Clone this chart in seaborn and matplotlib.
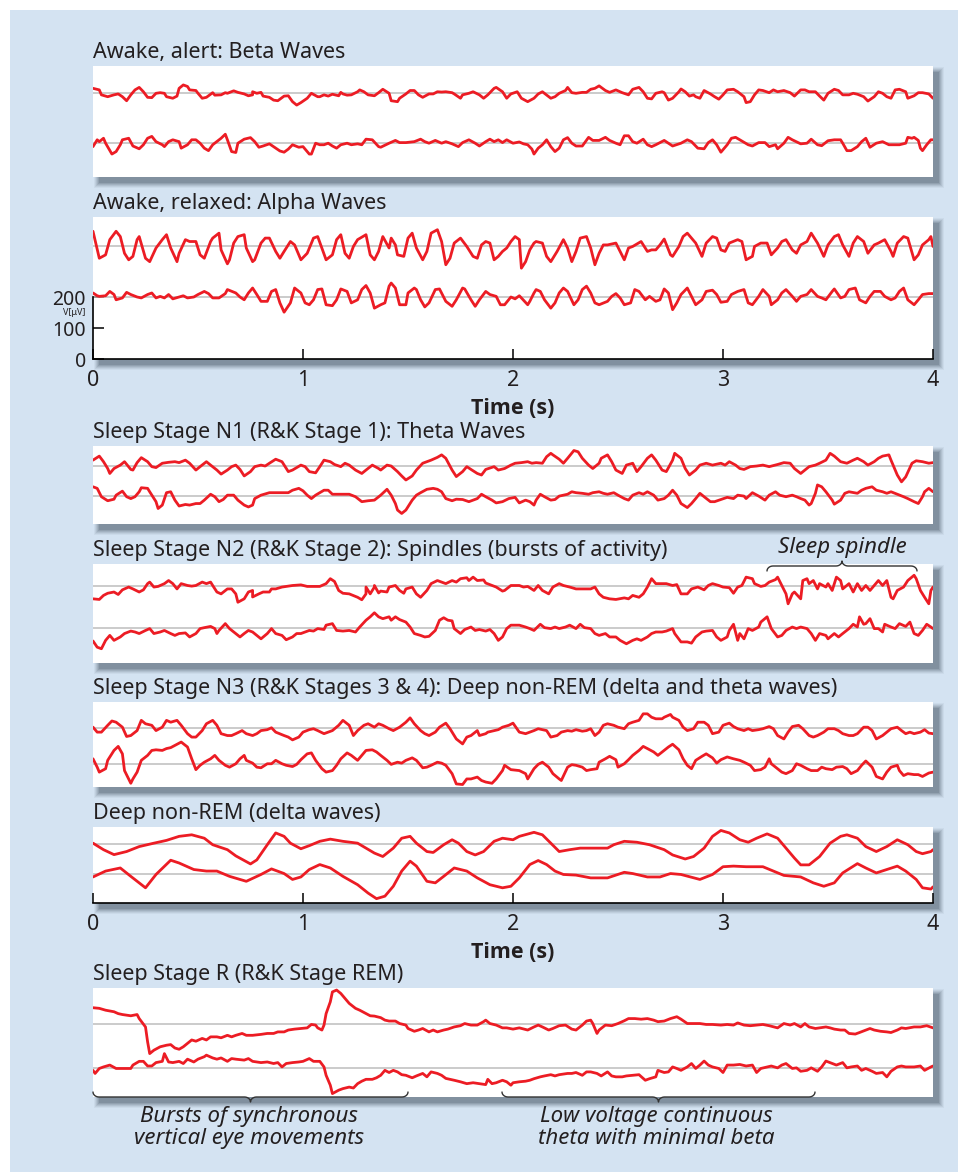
import numpy as np
import matplotlib
matplotlib.use("Agg")
import matplotlib.pyplot as plt
import seaborn as sns
from matplotlib.patches import Rectangle
from matplotlib.lines import Line2D
from matplotlib import font_manager

# --- Data: EEG traces, (time [s], amplitude [µV] around the trace baseline) ---
beta_upper = [(0.00, 16), (0.03, 11), (0.04, -5), (0.07, -11), (0.10, -5), (0.12, -2), (0.14, -11), (0.16, -24),
              (0.18, -5), (0.20, 11), (0.22, 19), (0.24, 5), (0.26, -13), (0.28, -14), (0.30, 0), (0.32, 2),
              (0.34, 0), (0.35, -11), (0.38, -16), (0.40, -9), (0.41, 16), (0.43, 27), (0.45, 22), (0.46, 11),
              (0.49, 9), (0.50, 0), (0.52, -16), (0.54, -13), (0.57, 2), (0.58, -6), (0.61, -5), (0.63, 2),
              (0.64, 0), (0.67, 8), (0.69, 3), (0.72, -2), (0.74, -8), (0.76, -5), (0.76, 5), (0.78, 0),
              (0.80, 3), (0.81, -9), (0.84, -13), (0.86, -22), (0.88, -24), (0.89, -19), (0.91, -9), (0.93, -8),
              (0.95, -27), (0.97, -38), (0.99, -30), (1.02, -16), (1.04, 0), (1.07, -11), (1.08, -11), (1.10, -5),
              (1.12, -9), (1.14, -3), (1.17, -8), (1.18, 3), (1.19, -2), (1.21, -6), (1.23, -5), (1.26, 5),
              (1.27, 11), (1.29, 5), (1.31, -5), (1.34, -8), (1.36, 2), (1.38, 13), (1.41, 0), (1.42, -24),
              (1.45, -27), (1.46, -16), (1.49, -2), (1.51, 9), (1.53, 9), (1.55, -5), (1.57, -13), (1.60, -2),
              (1.62, -2), (1.64, 5), (1.66, 4), (1.68, 5), (1.71, 2), (1.72, -2), (1.75, -16), (1.76, -5),
              (1.79, 0), (1.81, 5), (1.84, -5), (1.86, -16), (1.88, -5), (1.91, 16), (1.92, 19), (1.95, 5),
              (1.97, -16), (1.99, -2), (2.02, 5), (2.04, -16), (2.07, -27), (2.10, -16), (2.12, -2), (2.14, 5),
              (2.18, -16), (2.20, -11), (2.22, 0), (2.25, 9), (2.26, 19), (2.28, 2), (2.30, 0), (2.33, 3),
              (2.35, 3), (2.37, 13), (2.39, 16), (2.41, 24), (2.44, 9), (2.46, 3), (2.49, 11), (2.52, 2),
              (2.55, -5), (2.57, 13), (2.60, 19), (2.62, 5), (2.64, -16), (2.66, -18), (2.68, 0), (2.71, 5),
              (2.72, 2), (2.74, -22), (2.76, -16), (2.79, 5), (2.80, 14), (2.82, 5), (2.84, -9), (2.86, -5),
              (2.87, -11), (2.89, -16), (2.91, 9), (2.94, -2), (2.96, -11), (2.98, -19), (3.00, -5), (3.02, 11),
              (3.05, 13), (3.07, 5), (3.10, -11), (3.11, -30), (3.13, -27), (3.15, -5), (3.17, 11), (3.19, 9),
              (3.22, 2), (3.24, 11), (3.26, 5), (3.29, 9), (3.32, 2), (3.34, -9), (3.37, 11), (3.39, 11),
              (3.41, 5), (3.44, 5), (3.46, -9), (3.48, -22), (3.50, 0), (3.53, 13), (3.55, 9), (3.57, -5),
              (3.60, -5), (3.62, 0), (3.64, -3), (3.67, -11), (3.69, -25), (3.72, -11), (3.74, 5), (3.76, 0),
              (3.78, -11), (3.80, -16), (3.82, 11), (3.84, 13), (3.87, 5), (3.88, -16), (3.91, -8), (3.93, 2),
              (3.95, 2), (3.98, -2), (4.00, -16)]
beta_lower = [(0.00, -11), (0.02, 11), (0.03, 5), (0.05, 16), (0.06, 0), (0.09, -35), (0.11, -27), (0.13, -5),
              (0.14, 11), (0.17, 16), (0.19, -9), (0.22, -18), (0.24, -5), (0.26, 16), (0.28, 22), (0.30, 5),
              (0.33, -5), (0.34, -11), (0.36, 5), (0.38, 11), (0.41, 5), (0.42, -16), (0.45, -5), (0.47, 11),
              (0.49, 11), (0.51, 0), (0.53, -16), (0.55, -24), (0.57, -5), (0.60, 11), (0.61, 16), (0.63, 29),
              (0.64, 11), (0.66, -27), (0.68, -30), (0.69, 0), (0.72, 13), (0.75, 18), (0.77, 5), (0.79, -13),
              (0.81, -9), (0.84, -2), (0.87, -16), (0.89, -25), (0.91, -29), (0.93, -19), (0.95, -5), (0.98, -13),
              (1.00, -11), (1.03, -35), (1.04, -35), (1.06, 0), (1.08, -5), (1.10, -5), (1.12, 0), (1.14, -9),
              (1.16, -16), (1.18, -5), (1.21, 0), (1.23, -5), (1.26, -2), (1.28, -5), (1.30, 13), (1.33, 11),
              (1.36, -11), (1.37, -13), (1.41, 0), (1.44, 9), (1.46, 2), (1.49, 2), (1.53, 5), (1.56, 13),
              (1.58, 5), (1.60, 0), (1.63, 9), (1.66, 0), (1.68, 5), (1.71, -2), (1.74, -11), (1.76, 2),
              (1.79, 11), (1.82, 0), (1.84, -9), (1.87, 5), (1.89, 13), (1.91, 5), (1.93, 11), (1.95, 2),
              (1.97, 11), (2.00, 0), (2.03, 4), (2.05, -2), (2.07, -5), (2.09, -19), (2.10, -35), (2.12, -16),
              (2.14, -5), (2.16, 11), (2.18, -11), (2.20, -27), (2.22, -16), (2.24, 11), (2.26, 18), (2.28, 0),
              (2.30, -9), (2.33, -9), (2.36, 19), (2.38, 9), (2.41, 9), (2.44, 19), (2.46, 9), (2.49, 0),
              (2.51, -5), (2.53, 24), (2.55, 24), (2.57, 5), (2.59, 0), (2.62, 13), (2.64, -5), (2.66, -11),
              (2.68, -5), (2.72, 9), (2.74, 0), (2.76, -9), (2.80, 0), (2.83, 11), (2.85, 5), (2.88, -16),
              (2.91, -18), (2.93, 2), (2.95, 11), (2.97, -5), (2.99, -29), (3.02, -5), (3.04, 16), (3.06, 19),
              (3.08, 11), (3.12, -5), (3.14, -9), (3.17, 2), (3.20, 2), (3.22, -11), (3.25, -5), (3.26, -18),
              (3.29, 0), (3.31, 19), (3.33, 11), (3.37, -2), (3.40, 0), (3.42, 13), (3.45, -5), (3.47, -8),
              (3.50, 8), (3.53, 11), (3.56, 11), (3.57, 0), (3.59, -24), (3.61, -24), (3.64, -11), (3.66, 5),
              (3.68, 16), (3.70, -13), (3.73, 0), (3.76, 5), (3.79, -5), (3.82, -5), (3.84, -5), (3.87, 0),
              (3.88, 19), (3.90, 16), (3.91, 19), (3.93, 9), (3.94, -16), (3.95, -24), (3.97, -5), (3.99, 11),
              (4.00, 11)]

alpha_upper = [(0.00, 49), (0.03, -38), (0.06, -27), (0.08, 22), (0.11, 49), (0.13, 32), (0.15, -22), (0.17, -43),
               (0.19, -32), (0.21, 22), (0.22, 32), (0.25, -38), (0.27, -49), (0.30, -5), (0.33, 22), (0.35, 38),
               (0.37, -5), (0.40, -49), (0.41, -22), (0.44, 22), (0.46, 16), (0.49, 16), (0.51, -27), (0.53, -38),
               (0.56, 16), (0.57, 27), (0.60, 43), (0.61, -11), (0.64, -56), (0.65, -43), (0.67, 11), (0.69, 32),
               (0.72, 38), (0.73, -5), (0.76, -49), (0.77, -43), (0.80, 11), (0.82, 27), (0.84, 27), (0.87, -16),
               (0.89, -38), (0.91, -16), (0.94, 16), (0.96, 5), (0.99, -43), (1.02, -22), (1.05, 27), (1.07, 32),
               (1.09, -5), (1.11, -43), (1.14, -27), (1.16, 22), (1.18, 38), (1.20, -22), (1.22, -38), (1.24, 0),
               (1.26, 22), (1.30, 38), (1.32, -27), (1.34, -43), (1.36, -16), (1.38, 32), (1.41, -5), (1.42, 27),
               (1.44, 5), (1.45, -27), (1.48, -32), (1.50, 27), (1.52, 43), (1.54, -5), (1.57, -43), (1.59, -16),
               (1.61, 43), (1.64, 54), (1.66, 16), (1.68, -59), (1.70, -38), (1.72, 11), (1.75, 27), (1.78, 0),
               (1.81, -32), (1.83, -38), (1.85, 5), (1.87, 16), (1.89, 11), (1.91, -43), (1.93, -32), (1.95, -16),
               (1.97, -5), (1.99, 16), (2.01, 32), (2.03, 22), (2.04, -70), (2.06, -49), (2.08, -11), (2.10, 11),
               (2.11, 16), (2.14, 11), (2.16, -32), (2.18, -49), (2.21, -16), (2.24, 22), (2.26, -5), (2.28, -49),
               (2.30, -16), (2.32, 27), (2.35, 32), (2.37, -5), (2.39, -59), (2.41, -22), (2.43, 5), (2.45, 5),
               (2.49, 11), (2.51, -16), (2.53, -43), (2.55, -5), (2.57, 0), (2.61, 16), (2.64, -16), (2.66, -11),
               (2.68, -11), (2.70, 5), (2.72, 24), (2.75, -27), (2.76, -32), (2.79, 0), (2.81, 32), (2.83, 43),
               (2.85, 27), (2.87, 11), (2.90, -32), (2.92, 11), (2.95, 32), (2.97, 27), (2.99, -11), (3.01, -16),
               (3.03, 11), (3.07, 22), (3.09, 16), (3.11, -43), (3.14, -32), (3.15, 0), (3.18, 11), (3.21, 11),
               (3.23, -27), (3.26, -5), (3.28, 16), (3.30, 22), (3.33, -11), (3.35, -22), (3.37, 5), (3.40, 16),
               (3.42, 43), (3.45, 11), (3.48, -32), (3.50, 5), (3.53, 32), (3.55, 38), (3.57, 5), (3.60, -32),
               (3.62, 11), (3.64, 32), (3.67, 16), (3.69, -22), (3.72, 5), (3.74, 11), (3.77, 22), (3.80, -16),
               (3.81, -32), (3.83, 11), (3.86, 32), (3.88, 27), (3.91, -43), (3.93, -27), (3.95, 5), (3.98, 22),
               (3.99, 32), (4.00, 0)]
alpha_lower = [(0.00, 13), (0.02, 4), (0.03, 2), (0.06, 4), (0.08, 18), (0.10, 8), (0.11, -9), (0.14, -3),
               (0.16, 15), (0.18, 8), (0.21, 0), (0.23, -3), (0.26, 8), (0.28, 13), (0.30, -3), (0.32, 2),
               (0.34, -3), (0.36, 8), (0.38, -6), (0.41, 0), (0.43, 4), (0.45, -3), (0.48, 0), (0.50, 8),
               (0.53, 18), (0.55, 11), (0.57, -3), (0.60, -3), (0.63, 11), (0.64, 24), (0.68, 13), (0.70, 0),
               (0.72, -9), (0.74, 13), (0.76, 29), (0.78, 8), (0.80, -14), (0.83, -14), (0.85, 18), (0.87, 24),
               (0.89, -19), (0.91, -49), (0.94, -19), (0.96, 29), (0.99, 13), (1.01, -19), (1.03, -25), (1.05, -9),
               (1.07, 24), (1.09, 26), (1.11, -25), (1.14, -28), (1.16, -9), (1.18, 26), (1.21, 18), (1.23, -19),
               (1.26, -9), (1.28, 24), (1.30, 37), (1.32, 13), (1.34, -36), (1.37, -25), (1.39, -19), (1.41, 35),
               (1.42, 45), (1.44, 29), (1.46, -25), (1.49, -25), (1.50, 13), (1.53, 29), (1.54, 24), (1.56, -9),
               (1.58, -32), (1.60, -19), (1.63, 24), (1.65, 26), (1.68, -14), (1.71, -30), (1.73, -9), (1.76, 29),
               (1.77, 26), (1.80, -9), (1.82, -30), (1.84, -9), (1.87, 18), (1.89, 8), (1.92, 2), (1.94, -25),
               (1.96, -25), (1.99, 0), (2.01, -6), (2.03, 4), (2.04, -3), (2.07, -25), (2.08, -14), (2.10, 13),
               (2.11, 24), (2.13, 18), (2.15, -9), (2.18, -36), (2.20, -19), (2.22, 13), (2.24, 29), (2.26, 18),
               (2.29, -25), (2.31, -9), (2.33, 24), (2.35, 35), (2.37, 13), (2.39, -19), (2.41, -25), (2.45, -14),
               (2.47, 2), (2.49, 11), (2.51, -3), (2.53, -25), (2.56, -19), (2.58, 24), (2.60, 18), (2.63, -9),
               (2.65, 2), (2.68, -14), (2.70, -9), (2.72, 26), (2.74, 13), (2.76, -41), (2.78, -19), (2.80, 8),
               (2.83, 29), (2.85, 2), (2.87, -25), (2.90, -9), (2.92, 18), (2.95, 22), (2.97, 8), (2.99, -17),
               (3.02, -14), (3.04, 8), (3.07, 18), (3.10, 24), (3.12, -19), (3.14, -25), (3.17, 2), (3.19, 24),
               (3.22, 2), (3.23, -25), (3.26, -9), (3.28, 13), (3.30, 24), (3.33, 2), (3.35, -14), (3.37, 2),
               (3.40, 8), (3.42, 24), (3.45, 2), (3.47, -3), (3.49, -9), (3.52, 18), (3.53, 26), (3.56, -3),
               (3.58, 2), (3.60, 24), (3.63, 29), (3.65, -9), (3.68, -19), (3.70, 2), (3.72, 18), (3.75, 18),
               (3.77, 2), (3.80, -9), (3.82, -3), (3.84, 18), (3.86, 29), (3.88, -9), (3.91, -25), (3.93, -9),
               (3.95, 8), (3.98, 11), (4.00, 11)]

n1_upper = [(0.00, 18), (0.03, 31), (0.05, 13), (0.07, -9), (0.08, -25), (0.10, -9), (0.13, 2), (0.15, 13),
            (0.18, -12), (0.19, -14), (0.21, 10), (0.23, 26), (0.26, 13), (0.28, -3), (0.30, -6), (0.33, 8),
            (0.36, 11), (0.39, 13), (0.41, 10), (0.44, 18), (0.46, 8), (0.49, -14), (0.51, -3), (0.54, 13),
            (0.56, 2), (0.59, -14), (0.61, -27), (0.64, -14), (0.66, -3), (0.68, 2), (0.70, -12), (0.72, -33),
            (0.75, -19), (0.77, -3), (0.80, 2), (0.82, -1), (0.84, 8), (0.87, 21), (0.90, 13), (0.93, -19),
            (0.95, -14), (0.99, 2), (1.01, -3), (1.03, -19), (1.06, -23), (1.08, -3), (1.10, 18), (1.13, 13),
            (1.15, 4), (1.18, -3), (1.20, 8), (1.22, 2), (1.25, -14), (1.28, -25), (1.30, -14), (1.33, 2),
            (1.36, -9), (1.37, -14), (1.40, 2), (1.42, -1), (1.45, -19), (1.47, -33), (1.49, -46), (1.52, -33),
            (1.54, -14), (1.57, 8), (1.59, 13), (1.61, 18), (1.64, 27), (1.66, 35), (1.68, 24), (1.71, -14),
            (1.73, -35), (1.76, -19), (1.78, -3), (1.80, -12), (1.83, -25), (1.85, -30), (1.87, -12), (1.91, -3),
            (1.93, -14), (1.96, -9), (1.99, 2), (2.01, 8), (2.04, 10), (2.07, 13), (2.09, 8), (2.11, 10),
            (2.14, 8), (2.16, 29), (2.18, 40), (2.19, 35), (2.22, 21), (2.24, 8), (2.26, 24), (2.29, 49),
            (2.31, 45), (2.33, 24), (2.36, 2), (2.38, -9), (2.41, 8), (2.42, 24), (2.45, 35), (2.47, 13),
            (2.49, -14), (2.52, -25), (2.54, 2), (2.57, 8), (2.59, -19), (2.61, -3), (2.64, 24), (2.66, 35),
            (2.68, 18), (2.71, -14), (2.73, -19), (2.76, 18), (2.77, 40), (2.80, 24), (2.82, -9), (2.84, -30),
            (2.87, -14), (2.89, 2), (2.92, 8), (2.95, 2), (2.99, 8), (3.01, 2), (3.03, 13), (3.06, 2),
            (3.08, -9), (3.10, -12), (3.13, -3), (3.16, -1), (3.19, 2), (3.22, -3), (3.26, 4), (3.29, 10),
            (3.32, 8), (3.34, -9), (3.37, -25), (3.39, -14), (3.41, -3), (3.44, 2), (3.46, 8), (3.49, 18),
            (3.51, 40), (3.53, 31), (3.56, 13), (3.59, 8), (3.62, 18), (3.64, 24), (3.67, 13), (3.69, 2),
            (3.72, 13), (3.74, 24), (3.76, 31), (3.79, 35), (3.80, 18), (3.83, -30), (3.85, -52), (3.87, -36),
            (3.90, 8), (3.92, 16), (3.95, 13), (3.98, 8), (4.00, 10)]
n1_lower = [(0.00, 30), (0.02, 25), (0.04, -2), (0.07, -15), (0.10, -10), (0.11, 3), (0.14, 16), (0.16, -2),
            (0.18, -8), (0.20, -2), (0.22, 14), (0.23, 27), (0.26, 25), (0.27, 14), (0.30, -18), (0.31, -40),
            (0.33, -29), (0.35, 11), (0.37, 14), (0.39, -13), (0.41, -32), (0.44, -27), (0.46, -29), (0.49, -24),
            (0.51, -24), (0.53, -13), (0.56, 6), (0.58, -2), (0.60, -18), (0.62, -11), (0.64, 3), (0.67, 3),
            (0.69, -13), (0.72, -29), (0.74, -35), (0.76, -29), (0.77, -8), (0.80, 3), (0.84, 11), (0.88, 11),
            (0.93, 11), (0.95, 19), (0.98, 25), (1.00, 17), (1.02, 3), (1.04, -8), (1.06, 3), (1.10, 19),
            (1.12, 19), (1.14, 6), (1.18, 6), (1.22, 6), (1.25, -2), (1.28, -18), (1.31, -15), (1.34, -13),
            (1.37, 3), (1.40, 22), (1.42, 3), (1.44, -24), (1.45, -45), (1.47, -56), (1.49, -45), (1.52, -13),
            (1.54, 3), (1.56, 11), (1.59, 22), (1.62, 25), (1.64, 22), (1.66, 14), (1.68, -8), (1.71, -15),
            (1.73, -10), (1.76, -11), (1.79, -18), (1.83, -8), (1.85, 6), (1.87, -2), (1.90, -13), (1.92, -22),
            (1.95, -18), (1.98, -8), (2.01, -4), (2.03, -22), (2.06, -13), (2.08, -18), (2.10, -29), (2.11, -13),
            (2.13, 6), (2.15, -2), (2.18, -13), (2.20, -11), (2.22, 0), (2.26, 6), (2.28, 14), (2.30, 11),
            (2.33, 9), (2.36, 6), (2.38, 11), (2.41, 14), (2.43, 9), (2.45, 6), (2.48, 11), (2.50, 3),
            (2.53, -8), (2.55, -13), (2.57, 3), (2.60, 11), (2.62, 6), (2.64, 14), (2.67, 3), (2.69, -13),
            (2.72, -8), (2.74, 3), (2.76, 19), (2.78, 3), (2.80, -24), (2.83, -37), (2.85, -24), (2.87, -8),
            (2.89, 9), (2.91, -2), (2.94, -18), (2.96, -18), (2.99, -11), (3.02, -4), (3.05, -8), (3.07, 3),
            (3.10, 0), (3.11, -8), (3.14, 11), (3.17, 0), (3.20, -13), (3.22, 3), (3.25, 14), (3.27, 3),
            (3.30, -2), (3.33, 3), (3.35, -2), (3.37, -8), (3.39, -13), (3.41, -29), (3.42, -24), (3.44, 9),
            (3.45, 36), (3.47, 30), (3.49, 14), (3.52, -13), (3.53, -26), (3.56, -13), (3.58, 9), (3.60, 14),
            (3.64, 9), (3.66, 19), (3.68, 25), (3.71, 30), (3.73, 19), (3.76, 14), (3.78, 9), (3.80, 14),
            (3.83, 6), (3.86, -2), (3.88, -8), (3.91, -18), (3.93, -24), (3.95, -2), (3.96, 14), (3.98, 25),
            (4.00, 14)]

n2_upper = [(0.00, -41), (0.03, -43), (0.05, -30), (0.07, -23), (0.10, -19), (0.12, -27), (0.14, -12), (0.17, -3),
            (0.19, -9), (0.22, -19), (0.24, -12), (0.26, 8), (0.27, 13), (0.29, -3), (0.31, -1), (0.34, 8),
            (0.36, 18), (0.38, 8), (0.40, -9), (0.42, 8), (0.45, 2), (0.47, 0), (0.49, 2), (0.52, 13),
            (0.54, 8), (0.56, 13), (0.57, 2), (0.59, -19), (0.61, -25), (0.64, -9), (0.66, -9), (0.68, -25),
            (0.69, -52), (0.72, -41), (0.74, -19), (0.76, -14), (0.76, -35), (0.79, -25), (0.81, -19), (0.84, -19),
            (0.85, -9), (0.87, -9), (0.90, -3), (0.92, -1), (0.95, 2), (0.99, 4), (1.02, -1), (1.05, -1),
            (1.08, -1), (1.11, 8), (1.13, 24), (1.15, 15), (1.17, -14), (1.19, -23), (1.22, -25), (1.26, -36),
            (1.28, -44), (1.30, -25), (1.30, -3), (1.32, -25), (1.34, -3), (1.34, 2), (1.36, -22), (1.37, -16),
            (1.40, -19), (1.41, -3), (1.44, 2), (1.46, -14), (1.48, -23), (1.49, -9), (1.52, -3), (1.54, -25),
            (1.56, -36), (1.59, -14), (1.61, 8), (1.64, 18), (1.66, 13), (1.68, 8), (1.71, 18), (1.73, 13),
            (1.75, 24), (1.78, 27), (1.79, 18), (1.81, 29), (1.83, 18), (1.86, 20), (1.87, 10), (1.90, 2),
            (1.92, -3), (1.95, -16), (1.96, -14), (1.99, 2), (2.03, 2), (2.05, -3), (2.07, -1), (2.10, -14),
            (2.12, 2), (2.14, -14), (2.17, -25), (2.19, -3), (2.22, 8), (2.24, 2), (2.27, -3), (2.30, -9),
            (2.33, -9), (2.37, -9), (2.39, -3), (2.41, -25), (2.43, -36), (2.46, -41), (2.49, -43), (2.53, -38),
            (2.55, -41), (2.57, -30), (2.60, -36), (2.62, -25), (2.64, -3), (2.66, 24), (2.68, 8), (2.71, 8),
            (2.73, 8), (2.76, 2), (2.78, 5), (2.80, -25), (2.83, -25), (2.85, -9), (2.88, -3), (2.91, -12),
            (2.93, 2), (2.95, 8), (2.98, 2), (3.00, -3), (3.03, -5), (3.05, -23), (3.07, -3), (3.09, 2),
            (3.11, 29), (3.14, 24), (3.15, 8), (3.18, -1), (3.20, 2), (3.22, 13), (3.25, 21), (3.26, 29),
            (3.28, 2), (3.30, -25), (3.31, -57), (3.33, -25), (3.34, -19), (3.37, -41), (3.38, 18), (3.40, 24),
            (3.41, 8), (3.43, 18), (3.45, -9), (3.46, 8), (3.49, -3), (3.50, 8), (3.52, -14), (3.54, 29),
            (3.56, 18), (3.57, -9), (3.60, 8), (3.62, -19), (3.64, 8), (3.66, -14), (3.68, 2), (3.70, -14),
            (3.72, 2), (3.74, 18), (3.76, 2), (3.78, 18), (3.80, -36), (3.81, -41), (3.83, -14), (3.86, -3),
            (3.88, 18), (3.91, 35), (3.92, 24), (3.94, -14), (3.96, -36), (3.98, -57), (3.99, -14), (4.00, -3)]
n2_lower = [(0.00, -43), (0.02, -63), (0.04, -68), (0.06, -41), (0.08, -25), (0.10, -41), (0.13, -30), (0.15, -19),
            (0.18, -11), (0.20, -14), (0.22, -19), (0.25, -9), (0.27, -3), (0.29, -19), (0.32, -14), (0.34, -9),
            (0.37, -19), (0.39, -25), (0.41, -19), (0.44, -17), (0.46, -30), (0.49, -19), (0.51, -3), (0.53, 0),
            (0.56, 4), (0.58, -3), (0.59, -19), (0.60, -9), (0.63, 13), (0.65, -3), (0.68, -19), (0.70, -30),
            (0.72, -19), (0.74, -9), (0.76, -14), (0.78, -25), (0.80, -36), (0.83, -19), (0.85, -3), (0.87, -19),
            (0.90, -25), (0.92, -39), (0.95, -30), (0.97, -19), (0.99, -19), (1.03, -9), (1.05, -11), (1.07, -3),
            (1.10, -6), (1.11, 8), (1.14, 13), (1.16, -9), (1.19, -11), (1.22, -9), (1.25, -14), (1.27, 2),
            (1.30, 24), (1.32, 35), (1.34, 48), (1.36, 35), (1.38, 29), (1.41, 35), (1.42, 24), (1.44, 35),
            (1.46, 26), (1.49, 18), (1.51, 2), (1.53, -19), (1.56, -25), (1.58, -30), (1.60, -28), (1.63, -9),
            (1.65, 24), (1.67, 32), (1.69, 24), (1.71, 22), (1.72, -3), (1.75, -19), (1.77, -6), (1.80, 2),
            (1.82, -9), (1.84, -6), (1.87, -11), (1.89, -6), (1.91, -19), (1.93, -41), (1.95, -30), (1.97, -3),
            (1.99, 8), (2.03, 8), (2.06, 2), (2.08, -3), (2.10, -9), (2.13, 11), (2.15, 0), (2.18, -3),
            (2.20, 2), (2.22, -3), (2.25, 2), (2.27, 8), (2.30, -3), (2.32, 11), (2.34, 0), (2.37, -3),
            (2.39, -19), (2.41, -25), (2.44, -19), (2.46, -30), (2.49, -30), (2.51, -41), (2.54, -52), (2.57, -41),
            (2.59, -36), (2.61, -41), (2.64, -30), (2.66, -19), (2.68, -14), (2.71, -14), (2.73, -11), (2.76, -3),
            (2.77, -19), (2.80, -46), (2.83, -46), (2.85, -50), (2.87, -30), (2.90, -14), (2.92, -11), (2.95, -9),
            (2.97, -30), (2.99, -41), (3.02, -30), (3.03, -9), (3.05, 11), (3.07, -41), (3.08, -19), (3.10, -36),
            (3.12, -3), (3.14, -9), (3.17, 2), (3.18, 18), (3.21, 35), (3.23, -3), (3.26, -30), (3.28, -25),
            (3.30, -9), (3.33, 2), (3.35, -3), (3.37, 2), (3.40, -3), (3.42, -19), (3.44, -41), (3.46, -19),
            (3.49, -25), (3.50, -36), (3.53, -19), (3.55, -30), (3.57, -19), (3.60, -3), (3.62, 11), (3.64, 2),
            (3.65, 35), (3.67, 11), (3.68, 13), (3.70, 29), (3.72, -3), (3.74, -3), (3.76, -14), (3.77, 11),
            (3.80, 2), (3.82, -3), (3.84, 13), (3.87, 4), (3.89, 18), (3.91, -19), (3.93, -25), (3.95, -9),
            (3.97, 11), (3.99, 2), (4.00, -3)]

n3_upper = [(0.00, 3), (0.02, -13), (0.04, -13), (0.07, 9), (0.09, 23), (0.11, 19), (0.14, 3), (0.16, -27),
            (0.18, -24), (0.21, -8), (0.23, 25), (0.25, 14), (0.28, 9), (0.30, -8), (0.33, 3), (0.35, 25),
            (0.37, 19), (0.40, 25), (0.42, 9), (0.45, -18), (0.47, -29), (0.49, -29), (0.52, -8), (0.54, 14),
            (0.57, 25), (0.59, 9), (0.61, -18), (0.64, -24), (0.66, -24), (0.68, -18), (0.71, -8), (0.73, -18),
            (0.76, -24), (0.78, -18), (0.80, -8), (0.83, -5), (0.85, 1), (0.87, -13), (0.91, -24), (0.93, -29),
            (0.95, -38), (0.98, -29), (1.00, -13), (1.03, -5), (1.05, -2), (1.07, -8), (1.10, -18), (1.12, -13),
            (1.14, -8), (1.17, 9), (1.19, 25), (1.22, 9), (1.24, -24), (1.26, -8), (1.29, 9), (1.31, 14),
            (1.34, 3), (1.36, 14), (1.38, 9), (1.41, -2), (1.43, -8), (1.46, 3), (1.49, 19), (1.51, 33),
            (1.53, 14), (1.56, -8), (1.58, -18), (1.60, -24), (1.63, -13), (1.65, 3), (1.68, 16), (1.70, -2),
            (1.73, -35), (1.76, -51), (1.78, -29), (1.80, -24), (1.83, -8), (1.84, -24), (1.87, -18), (1.88, -13),
            (1.91, -8), (1.93, -5), (1.95, 3), (1.98, 9), (2.00, 16), (2.03, -13), (2.06, -18), (2.08, -13),
            (2.10, -8), (2.12, -2), (2.14, -5), (2.16, -8), (2.18, -29), (2.21, -24), (2.23, -13), (2.26, -8),
            (2.28, -10), (2.30, -5), (2.33, -10), (2.35, -8), (2.37, -2), (2.39, -24), (2.41, -13), (2.43, 9),
            (2.45, 14), (2.48, 9), (2.50, 3), (2.53, -2), (2.55, 14), (2.57, 19), (2.60, 25), (2.62, 46),
            (2.64, 46), (2.66, 35), (2.68, 30), (2.71, 30), (2.72, 35), (2.75, 44), (2.76, 35), (2.79, 25),
            (2.81, 3), (2.83, -8), (2.86, -2), (2.88, 19), (2.91, 19), (2.93, 9), (2.95, -18), (2.98, -13),
            (3.00, 9), (3.03, 16), (3.05, 5), (3.07, -2), (3.10, -8), (3.12, -2), (3.14, -8), (3.17, -5),
            (3.19, -2), (3.22, 5), (3.24, -2), (3.26, -24), (3.29, -35), (3.31, -13), (3.33, 5), (3.36, 9),
            (3.38, -2), (3.41, -24), (3.43, -29), (3.45, -24), (3.48, -13), (3.50, -2), (3.53, -2), (3.55, -8),
            (3.57, -18), (3.60, -24), (3.62, -24), (3.64, -18), (3.67, 3), (3.69, 3), (3.71, -8), (3.73, -35),
            (3.76, -24), (3.78, -13), (3.80, -2), (3.83, 3), (3.85, -8), (3.87, -18), (3.89, -13), (3.91, -18),
            (3.94, -13), (3.96, -5), (3.98, -16), (4.00, -18)]
n3_lower = [(0.00, 16), (0.02, -11), (0.03, -27), (0.06, -16), (0.07, 11), (0.10, 43), (0.12, 56), (0.14, 32),
            (0.15, -22), (0.18, -63), (0.19, -49), (0.21, -27), (0.23, 11), (0.26, 27), (0.28, 43), (0.30, 45),
            (0.33, 43), (0.35, 49), (0.37, 52), (0.40, 63), (0.42, 70), (0.45, 54), (0.47, 16), (0.49, -19),
            (0.51, -5), (0.53, 5), (0.56, 16), (0.58, 27), (0.60, 11), (0.63, -5), (0.65, -11), (0.68, 0),
            (0.70, 16), (0.72, 27), (0.73, 11), (0.76, 2), (0.78, -11), (0.80, -13), (0.83, 0), (0.85, 0),
            (0.87, 11), (0.90, 0), (0.92, -5), (0.95, -9), (0.97, -2), (0.99, 13), (1.02, 32), (1.04, 35),
            (1.06, 11), (1.09, -16), (1.11, -27), (1.14, -22), (1.16, -5), (1.18, 16), (1.21, 35), (1.23, 27),
            (1.26, 11), (1.28, 27), (1.30, 43), (1.33, 45), (1.35, 38), (1.37, 27), (1.40, 11), (1.42, -2),
            (1.45, 5), (1.47, 2), (1.49, 11), (1.52, 19), (1.54, 11), (1.57, -13), (1.59, -11), (1.61, -5),
            (1.64, 5), (1.66, 2), (1.68, -5), (1.71, -32), (1.73, -65), (1.76, -67), (1.78, -49), (1.80, -49),
            (1.83, -43), (1.85, -54), (1.87, -59), (1.90, -63), (1.92, -49), (1.95, -22), (1.96, -5), (1.99, -19),
            (2.03, -22), (2.06, -32), (2.07, -49), (2.10, -16), (2.12, -2), (2.14, 5), (2.17, -11), (2.19, -32),
            (2.22, -49), (2.23, -54), (2.26, -11), (2.28, -3), (2.30, -5), (2.33, -11), (2.35, -22), (2.37, -19),
            (2.40, -16), (2.41, 5), (2.44, 16), (2.46, 24), (2.49, 13), (2.50, -11), (2.53, 0), (2.55, 13),
            (2.57, 27), (2.60, 43), (2.62, 56), (2.64, 49), (2.67, 38), (2.69, 27), (2.72, 43), (2.74, 54),
            (2.76, 63), (2.79, 45), (2.81, 16), (2.83, -5), (2.85, -16), (2.87, 11), (2.90, 24), (2.92, 32),
            (2.95, 19), (2.97, 2), (2.99, 13), (3.02, 22), (3.05, 16), (3.08, 11), (3.10, 5), (3.13, -5),
            (3.15, -22), (3.18, -19), (3.20, -11), (3.22, 16), (3.23, 0), (3.26, -16), (3.28, -27), (3.30, -32),
            (3.33, -22), (3.35, 0), (3.37, -5), (3.40, -16), (3.42, -22), (3.45, -22), (3.47, -11), (3.49, -16),
            (3.52, -19), (3.54, -11), (3.57, -9), (3.59, -16), (3.61, -32), (3.64, -22), (3.66, -5), (3.68, 9),
            (3.71, -11), (3.73, -41), (3.76, -49), (3.78, -27), (3.80, -11), (3.83, -5), (3.84, -22), (3.86, -38),
            (3.88, -32), (3.91, -35), (3.93, -35), (3.95, -41), (3.98, -30), (4.00, -27)]

delta_upper = [(0.00, 2), (0.05, -19), (0.10, -35), (0.16, -25), (0.22, -9), (0.29, 2), (0.35, 11), (0.41, 24),
               (0.47, 29), (0.53, 18), (0.57, -3), (0.64, -19), (0.68, -39), (0.75, -65), (0.78, -52), (0.83, -3),
               (0.87, 35), (0.91, 24), (0.94, 2), (0.99, -16), (1.03, -6), (1.08, 8), (1.13, 15), (1.19, 8),
               (1.26, 2), (1.30, -14), (1.34, -30), (1.38, -41), (1.43, -14), (1.47, 18), (1.51, 24), (1.54, 2),
               (1.59, -25), (1.62, -28), (1.67, -3), (1.71, 13), (1.74, 2), (1.78, -25), (1.82, -36), (1.86, -25),
               (1.91, 8), (1.95, 18), (2.00, 13), (2.03, 24), (2.10, 37), (2.14, 29), (2.18, 2), (2.22, -25),
               (2.27, -19), (2.32, -14), (2.38, -14), (2.45, -14), (2.48, -3), (2.53, 8), (2.59, 5), (2.65, -3),
               (2.72, -19), (2.76, -36), (2.82, -49), (2.86, -41), (2.91, -14), (2.95, 24), (2.99, 43), (3.03, 35),
               (3.08, 13), (3.12, 5), (3.16, 18), (3.21, 32), (3.26, 18), (3.30, -14), (3.34, -46), (3.37, -68),
               (3.41, -68), (3.46, -41), (3.51, 2), (3.56, 24), (3.59, 29), (3.64, 18), (3.68, -9), (3.73, -25),
               (3.78, -9), (3.83, 13), (3.88, -3), (3.92, -25), (3.95, -32), (3.99, -25), (4.00, -19)]
delta_lower = [(0.00, -10), (0.06, 9), (0.13, 19), (0.18, -8), (0.25, -45), (0.30, -2), (0.37, 44), (0.41, 35),
               (0.48, 14), (0.54, 9), (0.59, 9), (0.65, -8), (0.73, -24), (0.80, -2), (0.85, 16), (0.91, 1),
               (0.95, -18), (0.99, -10), (1.03, 14), (1.08, 30), (1.13, 19), (1.19, -8), (1.26, -35), (1.31, -62),
               (1.35, -80), (1.39, -72), (1.43, -40), (1.47, 9), (1.51, 41), (1.54, 25), (1.59, -24), (1.63, -29),
               (1.67, -8), (1.72, 19), (1.78, 9), (1.83, -13), (1.89, -35), (1.95, -45), (1.99, -40), (2.03, -13),
               (2.08, 30), (2.12, 43), (2.16, 30), (2.20, 9), (2.24, -2), (2.30, -4), (2.37, -13), (2.45, -13),
               (2.53, 5), (2.57, 1), (2.64, -10), (2.70, -10), (2.75, 1), (2.80, -2), (2.89, -18), (2.95, -2),
               (3.00, 23), (3.05, 25), (3.11, 23), (3.19, 23), (3.24, 9), (3.29, -5), (3.37, -10), (3.43, -29),
               (3.48, -40), (3.53, -29), (3.57, 3), (3.64, 33), (3.68, 19), (3.73, 3), (3.78, 14), (3.83, 25),
               (3.87, 9), (3.92, -18), (3.95, -45), (3.99, -49), (4.00, -42)]

rem_upper = [(0.00, 54), (0.03, 52), (0.06, 46), (0.10, 41), (0.12, 35), (0.14, 32), (0.16, 30), (0.18, 28),
             (0.21, 32), (0.22, 19), (0.25, -8), (0.26, -56), (0.27, -94), (0.29, -83), (0.32, -72), (0.35, -67),
             (0.37, -65), (0.39, -76), (0.41, -80), (0.43, -72), (0.45, -61), (0.47, -50), (0.49, -54), (0.52, -45),
             (0.54, -50), (0.56, -40), (0.59, -40), (0.61, -43), (0.64, -35), (0.66, -40), (0.68, -35), (0.71, -29),
             (0.73, -35), (0.76, -35), (0.80, -32), (0.83, -29), (0.86, -29), (0.88, -24), (0.91, -24), (0.93, -18),
             (0.96, -15), (0.99, -13), (1.02, -11), (1.04, 0), (1.06, -2), (1.07, -11), (1.09, -18), (1.10, -2),
             (1.11, 35), (1.13, 73), (1.14, 105), (1.16, 111), (1.18, 100), (1.20, 84), (1.22, 68), (1.25, 52),
             (1.27, 46), (1.30, 35), (1.32, 28), (1.34, 27), (1.37, 22), (1.39, 14), (1.41, 11), (1.44, 11),
             (1.46, 3), (1.49, -2), (1.50, -13), (1.53, -22), (1.55, -18), (1.57, -13), (1.60, -24), (1.62, -18),
             (1.64, -24), (1.67, -18), (1.69, -15), (1.72, -8), (1.75, -4), (1.77, 3), (1.80, -2), (1.83, -2),
             (1.86, 9), (1.87, 14), (1.89, 3), (1.92, -2), (1.95, -11), (1.97, -11), (2.00, -15), (2.03, -11),
             (2.07, -18), (2.10, -8), (2.12, -2), (2.14, -8), (2.17, -18), (2.19, -13), (2.22, -4), (2.25, -2),
             (2.28, -15), (2.30, -18), (2.33, -2), (2.35, 11), (2.37, 14), (2.38, 3), (2.40, -29), (2.41, -18),
             (2.44, -2), (2.47, -4), (2.50, 3), (2.53, 12), (2.55, 19), (2.58, 19), (2.61, 17), (2.64, 19),
             (2.67, 14), (2.69, 9), (2.72, 11), (2.75, 19), (2.78, 25), (2.80, 17), (2.83, 3), (2.86, 3),
             (2.89, 3), (2.92, 0), (2.95, 0), (2.99, -2), (3.02, 0), (3.05, -2), (3.07, 5), (3.10, -2),
             (3.13, -4), (3.16, -2), (3.19, 0), (3.22, -4), (3.26, -11), (3.29, 3), (3.32, -2), (3.34, 3),
             (3.37, -8), (3.39, 3), (3.41, -8), (3.44, -13), (3.46, -11), (3.49, -8), (3.51, -11), (3.53, -15),
             (3.56, -18), (3.58, -18), (3.60, -29), (3.63, -31), (3.65, -26), (3.68, -18), (3.70, -13), (3.72, -18),
             (3.75, -22), (3.78, -24), (3.80, -26), (3.83, -18), (3.85, -11), (3.87, -13), (3.91, -8), (3.94, -8),
             (3.97, -4), (4.00, -11)]
rem_lower = [(0.00, -9), (0.01, -19), (0.03, -3), (0.05, 2), (0.08, 8), (0.11, -3), (0.14, -3), (0.18, -3),
             (0.19, 8), (0.22, 20), (0.24, 20), (0.26, 5), (0.28, 5), (0.30, 16), (0.33, 20), (0.34, 45),
             (0.36, 18), (0.38, 16), (0.41, 20), (0.43, 13), (0.45, 27), (0.48, 18), (0.50, 27), (0.53, 35),
             (0.54, 40), (0.57, 31), (0.59, 27), (0.61, 31), (0.64, 20), (0.66, 29), (0.68, 27), (0.72, 24),
             (0.74, 29), (0.76, 20), (0.80, 16), (0.83, 18), (0.86, 13), (0.88, 16), (0.90, 2), (0.92, 13),
             (0.95, 16), (0.98, 18), (1.00, 20), (1.03, 29), (1.05, 20), (1.08, 20), (1.10, 2), (1.11, -25),
             (1.13, -57), (1.14, -84), (1.17, -73), (1.19, -68), (1.22, -63), (1.24, -66), (1.26, -52), (1.28, -44),
             (1.30, -38), (1.33, -38), (1.35, -33), (1.37, -25), (1.39, -9), (1.41, -16), (1.43, -9), (1.45, -14),
             (1.47, -23), (1.49, -25), (1.52, -33), (1.54, -27), (1.57, -19), (1.59, -30), (1.61, -14), (1.64, -19),
             (1.66, -25), (1.68, -35), (1.72, -41), (1.75, -46), (1.78, -52), (1.81, -49), (1.84, -52), (1.87, -55),
             (1.88, -38), (1.90, -52), (1.92, -49), (1.95, -41), (1.97, -46), (1.99, -57), (2.00, -49), (2.03, -46),
             (2.06, -44), (2.08, -41), (2.10, -36), (2.13, -30), (2.15, -27), (2.18, -23), (2.20, -27), (2.22, -23),
             (2.26, -19), (2.28, -19), (2.30, -16), (2.33, -25), (2.35, -14), (2.37, -14), (2.40, -19), (2.42, -27),
             (2.45, -14), (2.47, -27), (2.49, -30), (2.52, -30), (2.54, -27), (2.57, -25), (2.60, -23), (2.63, -41),
             (2.65, -36), (2.68, -30), (2.69, -9), (2.72, -16), (2.74, -14), (2.76, 2), (2.78, -3), (2.80, -9),
             (2.83, 2), (2.85, 13), (2.87, -3), (2.89, 8), (2.91, 21), (2.93, 8), (2.95, 2), (2.98, -3),
             (3.00, -16), (3.02, 8), (3.05, 8), (3.08, 10), (3.11, 5), (3.14, 8), (3.16, -16), (3.18, -3),
             (3.21, 2), (3.23, 5), (3.26, -1), (3.28, 8), (3.30, 13), (3.33, -3), (3.35, -1), (3.37, -12),
             (3.40, -9), (3.42, -1), (3.45, -12), (3.47, 2), (3.49, 21), (3.52, 13), (3.54, 8), (3.57, 16),
             (3.59, -1), (3.61, 2), (3.64, 5), (3.66, -9), (3.68, -3), (3.71, -12), (3.73, -19), (3.76, -16),
             (3.78, -30), (3.80, -12), (3.83, 2), (3.85, 5), (3.87, 2), (3.91, 2), (3.94, 5), (3.96, -9),
             (3.99, 2), (4.00, 5)]

panel_titles = ["Awake, alert: Beta Waves",
                "Awake, relaxed: Alpha Waves",
                "Sleep Stage N1 (R&K Stage 1): Theta Waves",
                "Sleep Stage N2 (R&K Stage 2): Spindles (bursts of activity)",
                "Sleep Stage N3 (R&K Stages 3 & 4): Deep non-REM (delta and theta waves)",
                "Deep non-REM (delta waves)",
                "Sleep Stage R (R&K Stage REM)"]
panel_traces = [(beta_upper, beta_lower), (alpha_upper, alpha_lower), (n1_upper, n1_lower),
                (n2_upper, n2_lower), (n3_upper, n3_lower), (delta_upper, delta_lower), (rem_upper, rem_lower)]
time_ticks = [0, 1, 2, 3, 4]
volt_ticks = [0, 100, 200]

# --- Layout (pixels of the 958x1172 canvas, y from the top) ---
W, H = 958, 1172
X0, X1 = 93, 933
PX_PER_UV = 0.31
panel_top = [66, 217, 446, 564, 702, 827, 988]
panel_bot = [177, 359, 524, 663, 787, 903, 1097]
baselines = [(270, 109), (363, 200), (188, 90), (248, 114), (190, 75), (191, 94), (234, 95)]

RED = "#ec1c24"
TXT = "#231f20"
BG = "#d4e3f2"
FS = 15.5

sns.set_style("white")
plt.rcParams["font.family"] = ["Noto Sans", "DejaVu Sans"]
plt.rcParams["font.size"] = FS

# pick a bold face that really exists for the "Time (s)" labels
bold_family = "DejaVu Sans"
for fam in ["Noto Sans", "Open Sans", "Lato", "Liberation Sans"]:
    try:
        f = font_manager.findfont(font_manager.FontProperties(family=fam, weight="bold"),
                                  fallback_to_default=False)
        if "bold" in f.lower():
            bold_family = fam
            break
    except Exception:
        continue


def fx(x):
    return x / W


def fy(y):
    return 1 - y / H


def brace(fig, x0, x1, y, tip, cusp, r=6, n=8):
    # curly bracket in pixel coords: tips at y+tip, centre point at y+cusp
    xc = (x0 + x1) / 2
    th = np.linspace(0, np.pi / 2, n)
    xs = list(x0 + r * (1 - np.cos(th)))
    ys = list(y + tip * (1 - np.sin(th)))
    xs += list(xc - r + r * np.sin(th))
    ys += list(y + cusp * (1 - np.cos(th)))
    xs += list(xc + r - r * np.sin(th[::-1]))
    ys += list(y + cusp * (1 - np.cos(th[::-1])))
    xs += list(x1 - r * (1 - np.cos(th[::-1])))
    ys += list(y + tip * (1 - np.sin(th[::-1])))
    fig.add_artist(Line2D([fx(v) for v in xs], [fy(v) for v in ys], transform=fig.transFigure,
                          color="#333333", lw=1.0, zorder=6))


fig = plt.figure(figsize=(W / 100, H / 100), dpi=100)
fig.patch.set_facecolor("white")
fig.add_artist(Rectangle((fx(10), 0), 1 - fx(10), fy(10), transform=fig.transFigure,
                         color=BG, lw=0, zorder=-5))

for i, (title, (upper, lower)) in enumerate(zip(panel_titles, panel_traces)):
    top, bot = panel_top[i], panel_bot[i]
    # soft drop shadow
    for r, a in [(5, 0.05), (4, 0.07), (3, 0.09), (2, 0.11), (1, 0.13), (0, 0.16)]:
        fig.add_artist(Rectangle((fx(X0 + 6 - r), fy(bot + 6 + r)), (X1 - X0 + 2 * r) / W,
                                 (bot - top + 2 * r) / H, transform=fig.transFigure,
                                 color="#2e3b4a", alpha=a, lw=0, zorder=-4))
    ax = fig.add_axes([fx(X0), fy(bot), (X1 - X0) / W, (bot - top) / H])
    ax.set_facecolor("white")
    ymax = (bot - top) / PX_PER_UV
    for trace, base in zip((upper, lower), baselines[i]):
        ax.axhline(base, color="#bdbdbd", lw=1.1, zorder=1)
        t, v = np.array(trace, dtype=float).T
        sns.lineplot(x=t, y=v + base, ax=ax, color=RED, linewidth=2.0, estimator=None,
                     sort=False, legend=False, zorder=3,
                     solid_joinstyle="round", solid_capstyle="round")
    ax.set_xlim(0, 4)
    ax.set_ylim(0, ymax)
    ax.set_xlabel("")
    ax.set_ylabel("")
    for s in ax.spines.values():
        s.set_visible(False)
    ax.set_xticks([])
    ax.set_yticks([])
    fig.text(fx(X0), fy(top - 8), title, ha="left", va="baseline", fontsize=FS, color=TXT)

    if i in (1, 5):
        ax.spines["bottom"].set_visible(True)
        ax.spines["bottom"].set_color("black")
        ax.spines["bottom"].set_linewidth(1.2)
        ax.set_xticks(time_ticks)
        ax.tick_params(axis="x", direction="in", length=7, width=1.1, pad=8,
                       labelsize=FS, labelcolor=TXT, color="black", bottom=True)
        fig.text(fx((X0 + X1) / 2), fy(bot + 55), "Time (s)", ha="center", va="baseline",
                 fontsize=FS, fontweight="bold", family=[bold_family, "DejaVu Sans"], color=TXT)
    if i == 1:
        ax.spines["left"].set_visible(True)
        ax.spines["left"].set_color("black")
        ax.spines["left"].set_linewidth(1.2)
        ax.spines["left"].set_bounds(0, 200)
        ax.set_yticks(volt_ticks)
        ax.tick_params(axis="y", direction="in", length=8, width=1.1, pad=5,
                       labelsize=FS - 1.5, labelcolor=TXT, color="black", left=True)
        fig.text(fx(85), fy(312.5), "V[μV]", ha="right", va="center", fontsize=6.5, color=TXT)

# annotations
fig.text(fx(842), fy(553), "Sleep spindle", ha="center", va="baseline", fontsize=FS + 0.5,
         style="italic", color=TXT)
brace(fig, 767, 917, 566, 5, -5)
brace(fig, 93, 408, 1097, -5, 5)
brace(fig, 502, 815, 1097, -5, 5)
fig.text(fx(249), fy(1122), "Bursts of synchronous", ha="center", va="baseline", fontsize=FS + 0.5,
         style="italic", color=TXT)
fig.text(fx(249), fy(1144), "vertical eye movements", ha="center", va="baseline", fontsize=FS + 0.5,
         style="italic", color=TXT)
fig.text(fx(656), fy(1122), "Low voltage continuous", ha="center", va="baseline", fontsize=FS + 0.5,
         style="italic", color=TXT)
fig.text(fx(656), fy(1144), "theta with minimal beta", ha="center", va="baseline", fontsize=FS + 0.5,
         style="italic", color=TXT)

fig.savefig("out.png", dpi=100, facecolor=fig.get_facecolor())
